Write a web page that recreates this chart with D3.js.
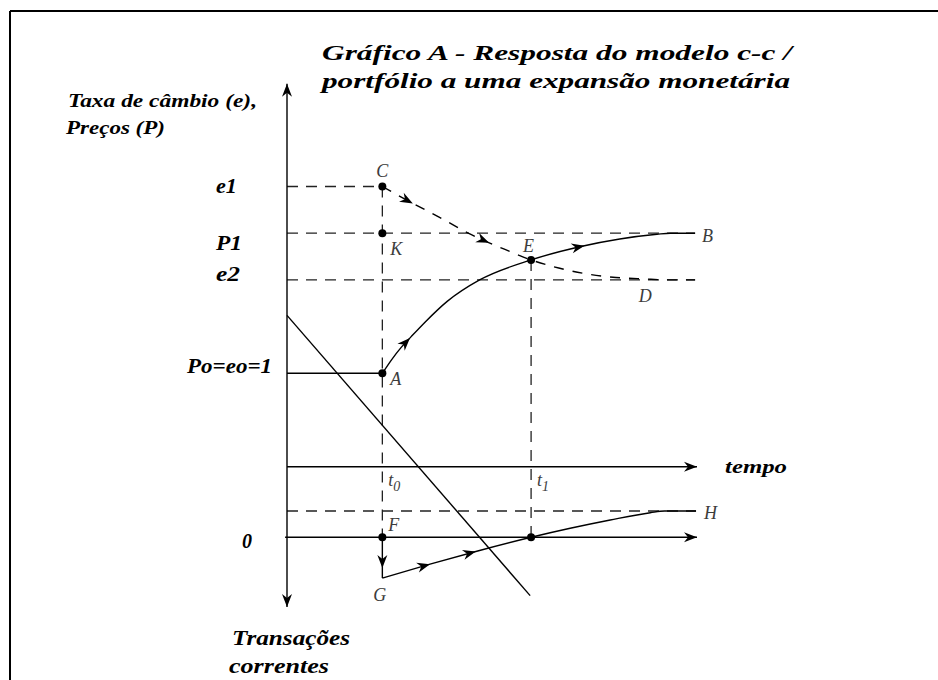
<!DOCTYPE html>
<html lang="pt">
<head>
<meta charset="utf-8">
<title>Gráfico A</title>
<script src="https://cdn.jsdelivr.net/npm/d3@7"></script>
<style>
  body { margin: 0; background: #fff; }
  svg { display: block; }
  .negrito { font-family: "Liberation Serif", "Times New Roman", serif; font-weight: bold; font-style: italic; fill: #000; }
  .letra { font-family: "Liberation Serif", "Times New Roman", serif; font-style: italic; fill: #3c3c3c; font-size: 18px; }
</style>
</head>
<body>
<div id="grafico"></div>
<script>
// Dados (tempo em unidades arbitrárias, t0 = 10)
const tempos = [10, 25.6];                 // t0, t1
const tempoNomes = ["0", "1"];
const tempoFinal = 42.8;

// Níveis do painel de cima (câmbio e preços)
const niveisNomes = ["e1", "P1", "e2", "Po=eo=1"];
const niveisValores = [3.0, 2.5, 2.0, 1.0];
// Nível final das transações correntes (H)
const nivelH = 1;

// Curva A-E-B (preços)
const curvaABx = [10, 11, 12, 13, 14.5, 16.8, 20.2, 25.6, 30.7, 34.9, 38.8, 40.2, 42.8];
const curvaABy = [1, 1.15, 1.28, 1.39, 1.55, 1.77, 2.0, 2.214, 2.355, 2.438, 2.488, 2.5, 2.5];
// Curva C-E-D (câmbio)
const curvaCDx = [10, 13, 16, 19, 22.3, 25.6, 28.5, 31.5, 34.5, 37.5, 40, 42.8];
const curvaCDy = [3.0, 2.83, 2.67, 2.5, 2.35, 2.214, 2.127, 2.063, 2.026, 2.01, 2.0, 2.0];
// Curva G-H (transações correntes)
const curvaGHx = [10, 15, 20, 25.6, 29.7, 33.9, 38.1, 39.6, 42.9];
const curvaGHy = [-1.55, -1.02, -0.52, 0, 0.342, 0.658, 0.935, 1.0, 1.0];
// Reta descendente
const retaX = [0, 25.5];
const retaY = [1.62, -1.38];
// Onde ficam as setas sobre as curvas (em tempo)
const setasAB = [12.9, 31.2];
const setasCD = [13.2, 21.2];
const setasGH = [15.0, 19.8];
const setaFG = -1.17;

const width = 938, height = 680;

const svg = d3.select("#grafico")
    .append("svg")
    .attr("width", width)
    .attr("height", height);

// Escalas
const x = d3.scaleLinear().domain([0, 43]).range([287, 697]);
const yTop = d3.scaleLinear().domain([0, 1]).range([466.7, 373.3]);
const yBot = d3.scaleLinear().domain([0, 1]).range([537.3, 511]);

// Moldura (só topo e esquerda aparecem)
svg.append("line").attr("x1", 10).attr("x2", width).attr("y1", 11).attr("y2", 11)
    .attr("stroke", "#000").attr("stroke-width", 2);
svg.append("line").attr("x1", 10).attr("x2", 10).attr("y1", 11).attr("y2", height)
    .attr("stroke", "#000").attr("stroke-width", 2);

function seta(px, py, angulo, escala = 1) {
    svg.append("path")
        .attr("d", "M0,0 L-13,-5 L-9,0 L-13,5 Z")
        .attr("transform", `translate(${px},${py}) rotate(${angulo}) scale(${escala})`)
        .attr("fill", "#000");
}

function linha(x1, y1, x2, y2, tracejada) {
    const l = svg.append("line")
        .attr("x1", x1).attr("y1", y1).attr("x2", x2).attr("y2", y2)
        .attr("stroke", tracejada ? "#222" : "#000")
        .attr("stroke-width", tracejada ? 1.3 : 1.4);
    if (tracejada) l.attr("stroke-dasharray", "11,8");
    return l;
}

// Linhas tracejadas horizontais
niveisValores.forEach((v, i) => {
    if (i === 3) return;
    const fim = i === 0 ? tempos[0] : tempoFinal;
    linha(x(0), yTop(v), x(fim), yTop(v), true);
});
linha(x(0), yBot(nivelH), x(tempoFinal + 0.1), yBot(nivelH), true);

// Verticais tracejadas em t0 e t1
linha(x(tempos[0]), yTop(niveisValores[0]), x(tempos[0]), yBot(0), true);
linha(x(tempos[1]), yTop(curvaABy[7]), x(tempos[1]), yBot(0), true);

// Nível inicial Po
linha(x(0), yTop(1), x(tempos[0]), yTop(1), false);

// Eixos
linha(x(0), yTop(4.1), x(0), yBot(-2.65), false);
seta(x(0), yTop(4.1), -90);
seta(x(0), yBot(-2.65), 90);
linha(x(0), yTop(0), x(43), yTop(0), false);
seta(x(43), yTop(0), 0);
linha(x(-0.2), yBot(0), x(43), yBot(0), false);
seta(x(43), yBot(0), 0);

// Reta descendente
linha(x(retaX[0]), yTop(retaY[0]), x(retaX[1]), yTop(retaY[1]), false);

// F -> G
linha(x(tempos[0]), yBot(0), x(tempos[0]), yBot(curvaGHy[0]), false);
seta(x(tempos[0]), yBot(setaFG), 90);

// Curvas
function curva(xs, ys, escalaY, tracejada) {
    const gerador = d3.line()
        .x(d => x(d[0]))
        .y(d => escalaY(d[1]))
        .curve(d3.curveMonotoneX);
    const p = svg.append("path")
        .datum(d3.zip(xs, ys))
        .attr("d", gerador)
        .attr("fill", "none")
        .attr("stroke", "#000")
        .attr("stroke-width", 1.4);
    if (tracejada) p.attr("stroke-dasharray", "10,9");
    return p;
}

function setasNaCurva(caminho, posicoes) {
    const node = caminho.node();
    const total = node.getTotalLength();
    posicoes.forEach(t => {
        const alvo = x(t);
        let lo = 0, hi = total;
        for (let i = 0; i < 30; i++) {
            const mid = (lo + hi) / 2;
            if (node.getPointAtLength(mid).x < alvo) lo = mid; else hi = mid;
        }
        const p = node.getPointAtLength(lo);
        const a = node.getPointAtLength(Math.max(0, lo - 3));
        const b = node.getPointAtLength(Math.min(total, lo + 3));
        seta(p.x, p.y, Math.atan2(b.y - a.y, b.x - a.x) * 180 / Math.PI);
    });
}

const ab = curva(curvaABx, curvaABy, yTop, false);
const cd = curva(curvaCDx, curvaCDy, yTop, true);
const gh = curva(curvaGHx, curvaGHy, yBot, false);
setasNaCurva(ab, setasAB);
setasNaCurva(cd, setasCD);
setasNaCurva(gh, setasGH);

// Pontos
const pontos = [
    [tempos[0], yTop(niveisValores[0])],
    [tempos[0], yTop(niveisValores[1])],
    [tempos[0], yTop(1)],
    [tempos[1], yTop(curvaABy[7])],
    [tempos[0], yBot(0)],
    [tempos[1], yBot(0)]
];
svg.selectAll("circle.ponto")
    .data(pontos)
    .enter()
    .append("circle")
    .attr("class", "ponto")
    .attr("cx", d => x(d[0]))
    .attr("cy", d => d[1])
    .attr("r", 4)
    .attr("fill", "#000");

// Letras dos pontos
const letras = [
    ["C", x(tempos[0]) - 6, yTop(niveisValores[0]) - 10],
    ["K", x(tempos[0]) + 8, yTop(niveisValores[1]) + 22],
    ["A", x(tempos[0]) + 8, yTop(1) + 12],
    ["E", x(tempos[1]) - 8, yTop(curvaABy[7]) - 8],
    ["B", x(tempoFinal) + 7, yTop(niveisValores[1]) + 9],
    ["D", x(36.9), yTop(niveisValores[2]) + 22],
    ["F", x(tempos[0]) + 6, yBot(0) - 6],
    ["G", x(tempos[0]) - 9, yBot(curvaGHy[0]) + 23],
    ["H", x(tempoFinal) + 9, yBot(nivelH) + 8]
];
svg.selectAll("text.letra")
    .data(letras)
    .enter()
    .append("text")
    .attr("class", "letra")
    .attr("x", d => d[1])
    .attr("y", d => d[2])
    .text(d => d[0]);

// t0 e t1
tempos.forEach((t, i) => {
    const txt = svg.append("text")
        .attr("class", "letra")
        .attr("x", x(t) + 6)
        .attr("y", yTop(0) + 19);
    txt.append("tspan").text("t");
    txt.append("tspan").attr("dy", 5).style("font-size", "14px").text(tempoNomes[i]);
});

// Títulos e rótulos
function texto(str, px, py, tam, largura) {
    svg.append("text")
        .attr("class", "negrito")
        .attr("x", px)
        .attr("y", py)
        .attr("textLength", largura)
        .attr("lengthAdjust", "spacingAndGlyphs")
        .style("font-size", tam + "px")
        .text(str);
}

// Rótulos dos níveis
const deslocNiveis = [6, 17, 1, 0];
const xNiveis = [216, 216, 216, 187];
const largNiveis = [21, 26, 24, 85];
niveisNomes.forEach((nome, i) => {
    texto(nome, xNiveis[i], yTop(niveisValores[i]) + deslocNiveis[i], 20, largNiveis[i]);
});
texto("0", 242, yBot(0) + 11, 20, 10);

texto("Gráfico A - Resposta do modelo c-c /", 322, 60, 22, 470);
texto("portfólio a uma expansão monetária", 322, 88, 22, 468);
texto("Taxa de câmbio (e),", 68, 107, 19, 189);
texto("Preços (P)", 66, 134, 19, 99);
texto("tempo", 725, 473, 19, 62);
texto("Transações", 232, 645, 20, 118);
texto("correntes", 229, 673, 20, 100);
</script>
</body>
</html>
